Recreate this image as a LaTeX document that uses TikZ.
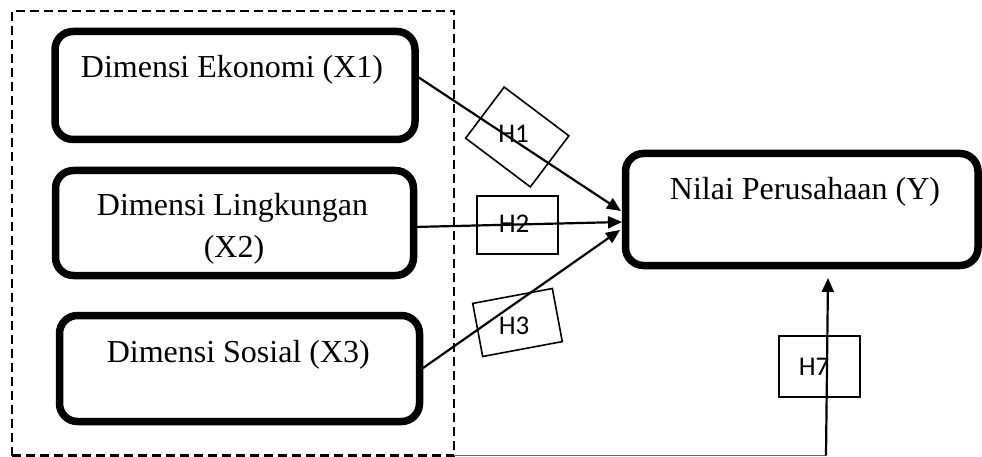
\documentclass[tikz,border=0pt]{standalone}
\usepackage{fontspec}
\setmainfont{Liberation Serif}
\newfontfamily\hfont{Carlito}
\usetikzlibrary{arrows.meta,calc}
\begin{document}
\begin{tikzpicture}[x=1pt,y=-1pt,
  varbox/.style={draw,line width=7.5pt,rounded corners=18pt,inner sep=0pt,outer sep=0pt},
  vtext/.style={anchor=base,inner sep=0pt,font=\fontsize{32}{38}\selectfont},
  hbox/.style={draw,line width=1.6pt,inner sep=0pt,outer sep=0pt},
  htext/.style={anchor=base,inner sep=0pt,font=\hfont\fontsize{27}{30}\selectfont},
  conn/.style={line width=2.2pt,-{Triangle[length=14pt,width=12pt]}}]
\useasboundingbox (0,0) rectangle (982,457);
% dashed group frame
\node[draw,dash pattern=on 9pt off 5pt,line width=2.5pt,inner sep=0pt,outer sep=0pt,
      minimum width=442pt,minimum height=444.5pt] (grp) at (233,233.25) {};
% variable boxes
\node[varbox,minimum width=360pt,minimum height=108pt] (X1) at (235,85.5) {};
\node[varbox,minimum width=358pt,minimum height=105pt] (X2) at (234.5,223) {};
\node[varbox,minimum width=360pt,minimum height=106pt] (X3) at (239.5,368.5) {};
\node[varbox,minimum width=352.5pt,minimum height=112pt] (Y) at (801.75,209.5) {};
% texts
\node[vtext] (X1t) at (232,78) {Dimensi Ekonomi (X1)};
\node[vtext] (X2t) at (232.5,215) {Dimensi Lingkungan};
\node[vtext] (X2u) at (234,257) {(X2)};
\node[vtext] (X3t) at (238.3,362) {Dimensi Sosial (X3)};
\node[vtext] (Yt) at (805,200) {Nilai Perusahaan (Y)};
% hypothesis boxes
\node[hbox,minimum width=81pt,minimum height=64pt,rotate=-37] (H1b) at (517.25,137) {};
\node[hbox,minimum width=81pt,minimum height=58pt] (H2b) at (517.5,225) {};
\node[hbox,minimum width=81pt,minimum height=54pt,rotate=10.6] (H3b) at (517.5,322.5) {};
\node[hbox,minimum width=81pt,minimum height=61pt] (H7b) at (819.5,366.5) {};
% connectors
\draw[conn] ([yshift=10.5pt]X1.east) -- ([xshift=-4.5pt,yshift=-1.5pt]Y.west);
\draw[conn] ([yshift=-4pt]X2.east) -- ([xshift=-3.5pt,yshift=-12.5pt]Y.west);
\draw[conn] ([yshift=-2pt]X3.east) -- ([xshift=-5.5pt,yshift=-20.5pt]Y.west);
\coordinate (c7) at (826,455.5);
\draw[black!60,line width=1.2pt] (grp.south east) -- (c7);
\draw[conn] (c7) -- ([xshift=26.25pt,yshift=-12.5pt]Y.south);
% hypothesis labels
\node[htext] (H1) at (513.5,143) {H1};
\node[htext] (H2) at (514,233) {H2};
\node[htext] (H3) at (514,334) {H3};
\node[htext] (H7) at (814,375) {H7};
\end{tikzpicture}
\end{document}
